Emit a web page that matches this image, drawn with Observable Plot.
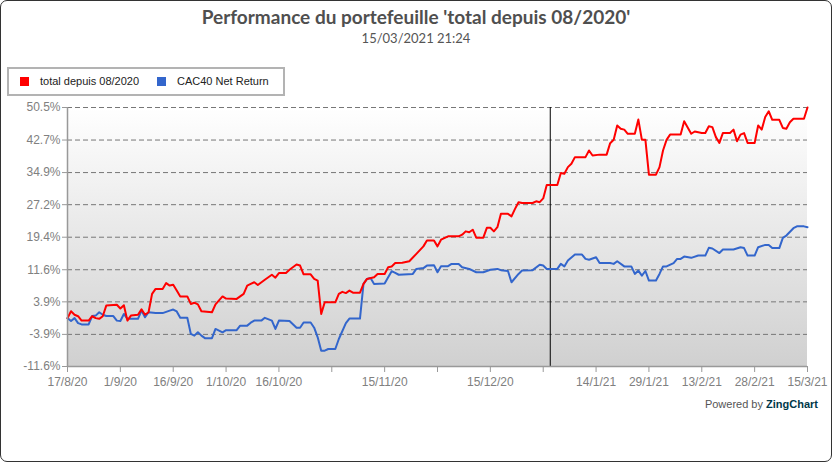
<!DOCTYPE html>
<html>
<head>
<meta charset="utf-8">
<script src="https://cdn.jsdelivr.net/npm/d3@7"></script>
<script src="https://cdn.jsdelivr.net/npm/@observablehq/plot@0.6"></script>
<style>
html, body { margin: 0; padding: 0; background: #fff; }
#chart { position: relative; width: 832px; height: 462px; overflow: hidden; font-family: Arial, "Liberation Sans", sans-serif; }
#plot { position: absolute; left: 0; top: 0; }
#frame { position: absolute; left: 0; top: 0; width: 830px; height: 460px; border: 1px solid #333; border-radius: 7px; pointer-events: none; }
#title { position: absolute; left: 0; width: 832px; top: 5px; text-align: center; font: bold 19px Lato, sans-serif; color: #4f4f4f; }
#subtitle { position: absolute; left: 0; width: 832px; top: 30px; text-align: center; font: 13px Lato, sans-serif; color: #555; }
#legend { position: absolute; left: 7px; top: 67px; width: 274px; height: 25px; border: 2px solid #b3b3b3; background: #fff; font: 11px Arial, "Liberation Sans", sans-serif; color: #222; }
.item { position: absolute; top: 0; height: 25px; line-height: 25px; white-space: nowrap; }
.sw { position: absolute; top: 8px; width: 9px; height: 9px; }
#footer { position: absolute; right: 14px; top: 398px; font: 11px Arial, "Liberation Sans", sans-serif; color: #555; }
#footer b { color: #003849; }
</style>
</head>
<body>
<div id="chart">
  <div id="plot"></div>
  <div id="title"></div>
  <div id="subtitle"></div>
  <div id="legend"></div>
  <div id="footer">Powered by <b>ZingChart</b></div>
  <div id="frame"></div>
</div>
<script>
const titleText = "Performance du portefeuille 'total depuis 08/2020'";
const subtitleText = "15/03/2021 21:24";
const seriesNames = ["total depuis 08/2020", "CAC40 Net Return"];
const seriesColors = ["#ff0000", "#3366cc"];

const redDates = ["2020-08-17","2020-08-18","2020-08-19","2020-08-20","2020-08-21","2020-08-23","2020-08-24","2020-08-25","2020-08-26","2020-08-27","2020-08-28","2020-08-31",
"2020-09-01","2020-09-02","2020-09-03","2020-09-04","2020-09-06","2020-09-07","2020-09-08","2020-09-09","2020-09-10","2020-09-11","2020-09-13","2020-09-14","2020-09-15","2020-09-16","2020-09-17","2020-09-18","2020-09-20","2020-09-21","2020-09-22","2020-09-23","2020-09-24","2020-09-27","2020-09-28","2020-09-30",
"2020-10-01","2020-10-04","2020-10-06","2020-10-07","2020-10-08","2020-10-09","2020-10-10","2020-10-12","2020-10-14","2020-10-15","2020-10-16","2020-10-18","2020-10-19","2020-10-21","2020-10-22","2020-10-23","2020-10-25","2020-10-26","2020-10-27","2020-10-28","2020-10-29",
"2020-11-01","2020-11-02","2020-11-03","2020-11-04","2020-11-05","2020-11-06","2020-11-08","2020-11-09","2020-11-10","2020-11-12","2020-11-13","2020-11-15","2020-11-16","2020-11-17","2020-11-18","2020-11-20","2020-11-22","2020-11-24","2020-11-26","2020-11-27","2020-11-29","2020-11-30",
"2020-12-01","2020-12-03","2020-12-06","2020-12-07","2020-12-08","2020-12-09","2020-12-10","2020-12-11","2020-12-13","2020-12-14","2020-12-15","2020-12-16","2020-12-17","2020-12-18","2020-12-20","2020-12-21","2020-12-22","2020-12-23","2020-12-24","2020-12-27","2020-12-28","2020-12-29","2020-12-30","2020-12-31",
"2021-01-03","2021-01-04","2021-01-05","2021-01-06","2021-01-07","2021-01-08","2021-01-11","2021-01-12","2021-01-13","2021-01-15","2021-01-17","2021-01-18","2021-01-19","2021-01-20","2021-01-21","2021-01-22","2021-01-23","2021-01-25","2021-01-26","2021-01-27","2021-01-28","2021-01-29","2021-01-31",
"2021-02-01","2021-02-02","2021-02-03","2021-02-04","2021-02-07","2021-02-08","2021-02-10","2021-02-11","2021-02-13","2021-02-14","2021-02-15","2021-02-16","2021-02-17","2021-02-18","2021-02-19","2021-02-21","2021-02-22","2021-02-23","2021-02-24","2021-02-25","2021-02-26","2021-02-28",
"2021-03-01","2021-03-02","2021-03-03","2021-03-04","2021-03-05","2021-03-07","2021-03-08","2021-03-09","2021-03-10","2021-03-11","2021-03-14","2021-03-15"];
const redValues = [0,1.65,0.8,0.45,-0.6,-0.6,0.45,0.0,-0.17,0.45,3.0,3.2,
2.3,3.1,-0.6,0.6,0.8,2.1,0.8,1.4,5.8,7.0,7.0,8.4,7.8,8.0,6.6,5.2,5.2,3.4,3.7,3.3,1.65,1.4,3.3,5.2,
4.7,4.6,5.8,7.8,8.2,8.6,7.95,9.2,10.4,9.7,10.8,10.8,11.6,12.85,12.6,10.5,10.5,9.4,9.0,1.0,3.8,
3.8,5.8,6.3,6.0,6.6,6.1,6.1,8.2,9.4,9.8,10.6,10.6,12.2,12.4,13.2,13.3,13.65,15.4,17.2,18.6,18.6,17.2,
18.8,19.6,19.6,20.0,20.8,20.6,21.2,19.3,19.3,21.65,21.65,20.8,21.8,25.0,25.0,24.4,26.2,27.8,27.6,27.6,28.0,27.8,28.7,31.9,
31.9,34.8,34.6,36.2,37.0,38.6,38.6,40.2,39.0,39.2,39.2,41.95,42.75,46.2,45.4,45.2,44.2,44.2,47.6,42.75,42.75,34.4,34.4,
36.2,40.2,42.75,44.0,44.0,47.2,44.2,44.75,44.4,44.4,46.0,45.8,43.4,42.0,44.4,44.4,45.2,42.4,44.0,44.35,42.0,42.0,
46.2,45.2,48.2,49.6,47.55,47.55,45.6,45.4,46.95,47.8,47.8,50.5];

const blueDates = ["2020-08-17","2020-08-18","2020-08-19","2020-08-20","2020-08-21","2020-08-23","2020-08-24","2020-08-25","2020-08-26","2020-08-27","2020-08-28","2020-08-30","2020-08-31",
"2020-09-01","2020-09-02","2020-09-03","2020-09-06","2020-09-07","2020-09-08","2020-09-09","2020-09-11","2020-09-13","2020-09-15","2020-09-16","2020-09-17","2020-09-18","2020-09-20","2020-09-21","2020-09-22","2020-09-23","2020-09-24","2020-09-25","2020-09-27","2020-09-28","2020-09-30",
"2020-10-01","2020-10-04","2020-10-05","2020-10-07","2020-10-08","2020-10-09","2020-10-11","2020-10-12","2020-10-14","2020-10-15","2020-10-16","2020-10-19","2020-10-21","2020-10-22","2020-10-23","2020-10-25","2020-10-26","2020-10-27","2020-10-28","2020-10-29","2020-10-30",
"2020-11-01","2020-11-02","2020-11-04","2020-11-05","2020-11-08","2020-11-09","2020-11-10","2020-11-11","2020-11-12","2020-11-15","2020-11-16","2020-11-17","2020-11-18","2020-11-19","2020-11-23","2020-11-24","2020-11-26","2020-11-27","2020-11-29","2020-11-30",
"2020-12-01","2020-12-03","2020-12-04","2020-12-06","2020-12-07","2020-12-09","2020-12-11","2020-12-13","2020-12-15","2020-12-17","2020-12-18","2020-12-20","2020-12-21","2020-12-23","2020-12-24","2020-12-27","2020-12-29","2020-12-30","2020-12-31",
"2021-01-03","2021-01-04","2021-01-05","2021-01-06","2021-01-08","2021-01-10","2021-01-11","2021-01-12","2021-01-14","2021-01-15","2021-01-18","2021-01-19","2021-01-20","2021-01-22","2021-01-24","2021-01-25","2021-01-26","2021-01-27","2021-01-28","2021-01-29","2021-01-31",
"2021-02-01","2021-02-02","2021-02-03","2021-02-05","2021-02-06","2021-02-07","2021-02-08","2021-02-10","2021-02-12","2021-02-14","2021-02-15","2021-02-16","2021-02-18","2021-02-19","2021-02-22","2021-02-24","2021-02-25","2021-02-26","2021-02-28",
"2021-03-01","2021-03-03","2021-03-04","2021-03-05","2021-03-07","2021-03-08","2021-03-09","2021-03-11","2021-03-12","2021-03-14","2021-03-15"];
const blueValues = [0.0,-0.7,0.0,-1.2,-1.5,-1.5,0.5,0.6,1.4,0.8,0.5,0.5,-0.6,
-0.7,1.0,-0.17,-0.17,1.8,0.2,1.4,1.2,1.2,1.8,2.05,1.6,0.07,0.07,-3.8,-4.2,-3.4,-4.2,-4.8,-4.8,-2.6,-3.4,
-2.9,-2.9,-1.8,-1.8,-1.1,-0.6,-0.6,0.07,-0.6,-2.6,-0.6,-0.7,-2.3,-2.3,-1.05,-1.05,-2.3,-4.6,-7.8,-7.8,-7.4,
-7.4,-5.0,-1.2,-0.1,-0.1,8.2,9.4,9.6,8.2,8.3,9.8,11.25,10.85,10.4,10.6,11.8,12.0,12.6,12.7,11.0,
12.45,12.45,13.0,13.0,12.2,11.8,11.0,11.0,11.6,11.8,11.5,11.3,8.6,10.6,11.4,11.5,12.8,12.6,11.8,
11.8,13.0,12.4,13.8,15.25,15.25,14.2,14.0,14.6,13.2,13.2,13.0,13.65,12.4,12.4,10.6,11.4,10.2,11.3,9.0,9.0,
10.6,12.4,12.4,13.2,14.2,14.2,14.75,14.45,15.0,15.0,16.85,16.7,15.6,16.45,16.45,17.0,16.8,15.0,15.0,
17.0,17.55,17.55,16.8,16.8,19.25,19.8,21.55,22.0,22.0,21.8];

const xDomain = ["2020-08-17", "2021-03-15"];
const xTickDates = ["2020-08-17","2020-09-01","2020-09-16","2020-10-01","2020-10-16","2020-10-31","2020-11-15","2020-11-30","2020-12-15","2020-12-30","2021-01-14","2021-01-29","2021-02-13","2021-02-28","2021-03-15"];
const xTickLabels = ["17/8/20","1/9/20","16/9/20","1/10/20","16/10/20","","15/11/20","","15/12/20","","14/1/21","29/1/21","13/2/21","28/2/21","15/3/21"];
const yTicks = [-11.6, -3.9, 3.9, 11.6, 19.4, 27.2, 34.9, 42.7, 50.5];
const markerDates = ["2021-01-01"];

const parse = d3.utcParse("%Y-%m-%d");
const redData = redDates.map((d, i) => ({date: parse(d), value: redValues[i]}));
const blueData = blueDates.map((d, i) => ({date: parse(d), value: blueValues[i]}));
const tickDates = xTickDates.map(parse);
const labelMap = new Map(tickDates.map((d, i) => [+d, xTickLabels[i]]));
const yMin = d3.min(yTicks), yMax = d3.max(yTicks);

document.getElementById("title").textContent = titleText;
document.getElementById("subtitle").textContent = subtitleText;
const legend = document.getElementById("legend");
const legendX = [[11, 31], [148, 168]];
seriesNames.forEach((name, i) => {
  const sw = document.createElement("div");
  sw.className = "sw"; sw.style.left = legendX[i][0] + "px"; sw.style.background = seriesColors[i];
  const t = document.createElement("div");
  t.className = "item"; t.style.left = legendX[i][1] + "px"; t.textContent = name;
  legend.append(sw, t);
});

function background(index, scales, values, dims) {
  const ns = "http://www.w3.org/2000/svg";
  const g = document.createElementNS(ns, "g");
  g.innerHTML = '<defs><linearGradient id="plotbg" x1="0" y1="0" x2="0" y2="1"><stop offset="0" stop-color="#ffffff"/><stop offset="1" stop-color="#d0d0d0"/></linearGradient></defs>';
  const r = document.createElementNS(ns, "rect");
  r.setAttribute("x", dims.marginLeft);
  r.setAttribute("y", dims.marginTop);
  r.setAttribute("width", dims.width - dims.marginLeft - dims.marginRight);
  r.setAttribute("height", dims.height - dims.marginTop - dims.marginBottom);
  r.setAttribute("fill", "url(#plotbg)");
  g.append(r);
  return g;
}

const chart = Plot.plot({
  width: 832,
  height: 462,
  marginTop: 107,
  marginBottom: 96,
  marginLeft: 67,
  marginRight: 25,
  style: {fontFamily: "Arial, 'Liberation Sans', sans-serif", fontSize: "12px", background: "transparent"},
  x: {type: "utc", domain: xDomain.map(parse)},
  y: {domain: [yMin, yMax]},
  marks: [
    background,
    Plot.ruleY(yTicks.filter(v => v !== yMin), {stroke: "#777", strokeWidth: 1, strokeDasharray: "5,3"}),
    Plot.ruleX(markerDates.map(parse), {stroke: "#000", strokeWidth: 1}),
    Plot.line(blueData, {x: "date", y: "value", stroke: seriesColors[1], strokeWidth: 2}),
    Plot.line(redData, {x: "date", y: "value", stroke: seriesColors[0], strokeWidth: 2}),
    Plot.ruleY([yMin], {stroke: "#999", strokeWidth: 1.5}),
    Plot.ruleX([parse(xDomain[0])], {stroke: "#999", strokeWidth: 1.5}),
    Plot.axisY({ticks: yTicks, tickFormat: d => d.toFixed(1) + "%", tickSize: 5, tickPadding: 2, stroke: "#999", fill: "#808080", label: null}),
    Plot.axisX({ticks: tickDates, tickFormat: d => labelMap.get(+d), tickSize: 6, tickPadding: 5, stroke: "#999", fill: "#808080", label: null})
  ]
});
document.getElementById("plot").append(chart);
</script>
</body>
</html>
